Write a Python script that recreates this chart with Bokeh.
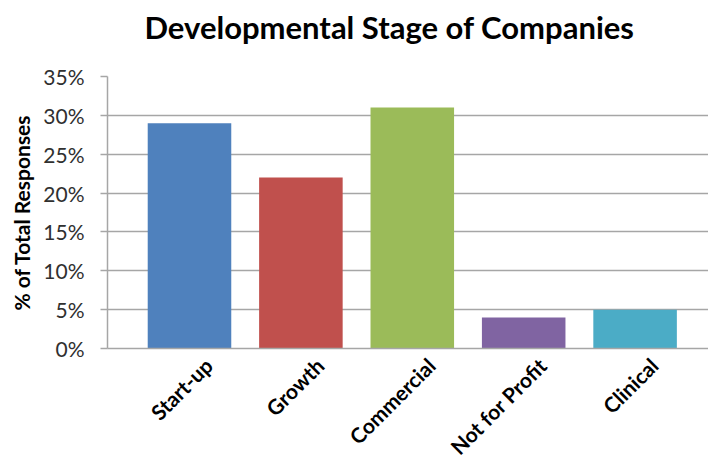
import math
from bokeh.plotting import figure
from bokeh.models import Range1d, FixedTicker, NumeralTickFormatter, ColumnDataSource, Title
from bokeh.embed import file_html
from bokeh.resources import INLINE

title_text = "Developmental Stage of Companies"
categories = ["Start-up", "Growth", "Commercial", "Not for Profit", "Clinical"]
values = [0.29, 0.22, 0.31, 0.04, 0.05]
colors = ["#4F81BD", "#C0504D", "#9BBB59", "#8064A2", "#4BACC6"]
y_ticks = [0, 0.05, 0.10, 0.15, 0.20, 0.25, 0.30, 0.35]

positions = list(range(len(categories)))
label_shift = 0.17
label_positions = [i + label_shift for i in positions]
src = ColumnDataSource(dict(x=positions, top=values, color=colors, name=categories))

FONT = "Lato"

p = figure(width=708, height=472, output_backend="svg", toolbar_location=None,
           x_range=Range1d(-0.736, 4.659), y_range=Range1d(0, 0.35),
           min_border_left=107, min_border_right=0, min_border_bottom=124, min_border_top=75)
p.vbar(x="x", top="top", width=0.75, color="color", source=src, line_color=None)

spacer = Title(text=" ", text_font_size="1px", standoff=18)
p.add_layout(spacer, "above")
main_title = Title(text=title_text, text_font=FONT, text_font_style="bold",
                   text_font_size="31px", align="left", vertical_align="top",
                   offset=37, text_color="#000000", standoff=15)
p.add_layout(main_title, "above")

p.outline_line_color = None
p.xgrid.grid_line_color = None
p.ygrid.grid_line_color = "#a6a6a6"
p.ygrid.grid_line_width = 1.5
p.ygrid.ticker = FixedTicker(ticks=y_ticks)

p.yaxis.ticker = FixedTicker(ticks=y_ticks)
p.yaxis.formatter = NumeralTickFormatter(format="0%")
p.yaxis.axis_line_color = "#a6a6a6"
p.yaxis.axis_line_width = 1.5
p.yaxis.major_tick_line_color = "#a6a6a6"
p.yaxis.major_tick_line_width = 1.5
p.yaxis.major_tick_in = 0
p.yaxis.major_tick_out = 7
p.yaxis.minor_tick_line_color = None
p.yaxis.major_label_text_font = FONT
p.yaxis.major_label_text_font_size = "21px"
p.yaxis.major_label_text_color = "#303030"
p.yaxis.major_label_standoff = 16
p.yaxis.axis_label = "% of Total Responses"
p.yaxis.axis_label_text_font = FONT
p.yaxis.axis_label_text_font_style = "bold"
p.yaxis.axis_label_text_font_size = "21px"
p.yaxis.axis_label_text_color = "#000000"
p.yaxis.axis_label_standoff = 6

p.xaxis.ticker = FixedTicker(ticks=label_positions)
p.xaxis.major_label_overrides = {x: c for x, c in zip(label_positions, categories)}
p.xaxis.major_label_orientation = math.pi / 4
p.xaxis.major_label_text_font = FONT
p.xaxis.major_label_text_font_style = "bold"
p.xaxis.major_label_text_font_size = "21px"
p.xaxis.major_label_text_color = "#000000"
p.xaxis.axis_line_color = "#a6a6a6"
p.xaxis.axis_line_width = 1.5
p.xaxis.major_tick_line_color = None
p.xaxis.minor_tick_line_color = None
p.xaxis.major_label_standoff = 7

open("out.html", "w").write(file_html(p, INLINE))
